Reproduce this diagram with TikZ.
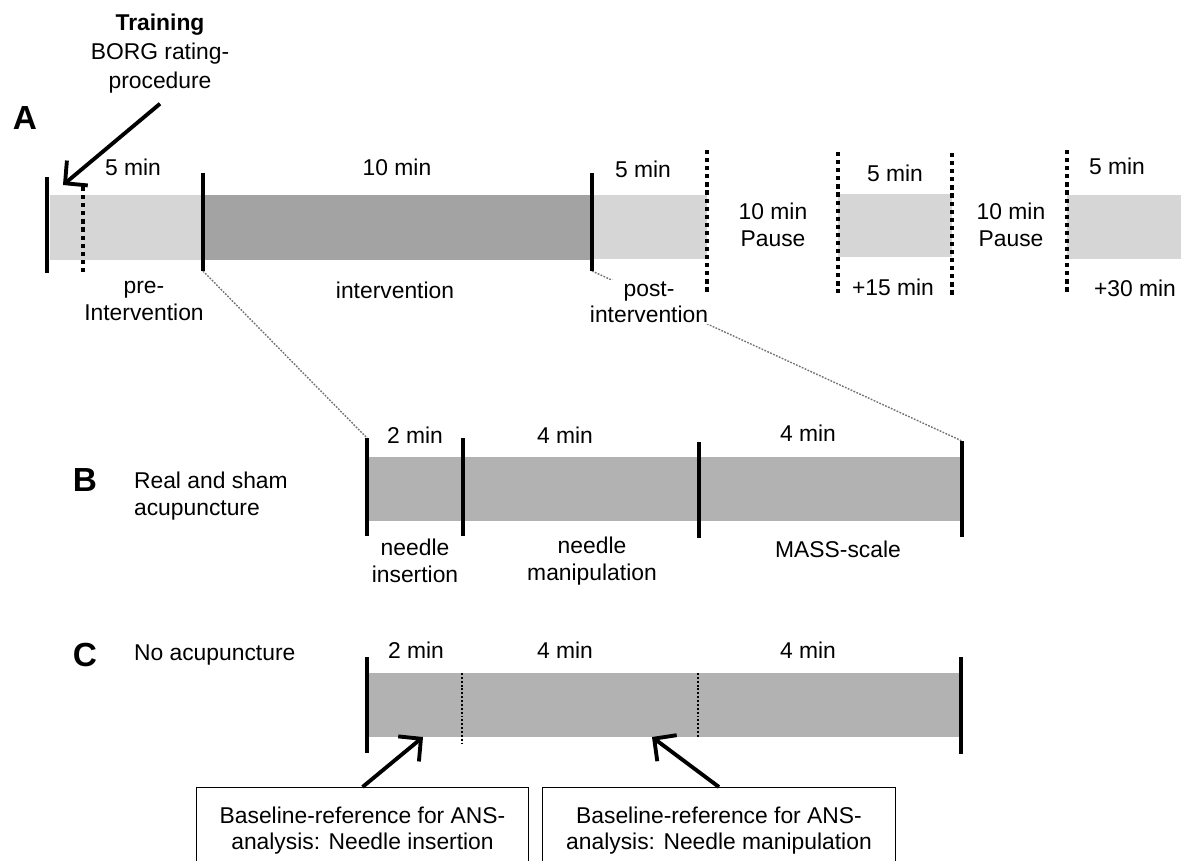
\documentclass[tikz,border=0pt]{standalone}
\usepackage{fontspec}
\setmainfont{Liberation Sans}
\usetikzlibrary{fit,positioning,arrows.meta}

\begin{document}
\begin{tikzpicture}[x=0.02cm, y=-0.02cm,
    lbl/.style={font=\fontsize{13}{15}\selectfont, align=center, inner sep=1pt},
    pLabel/.style={font=\fontsize{19}{21}\selectfont\bfseries, inner sep=0pt},
    segLight/.style={fill=black!16, inner sep=0pt},
    segDark/.style={fill=black!36, inner sep=0pt},
    segMid/.style={fill=black!30, inner sep=0pt},
    tick/.style={line width=2.8pt},
    dTick/.style={line width=2.6pt, dash pattern=on 2.4pt off 2.2pt},
    fTick/.style={line width=1.4pt, dash pattern=on 1.1pt off 1.1pt},
    zoomLine/.style={draw=black!55, line width=0.8pt, dash pattern=on 1pt off 0.8pt},
    pointer/.style={line width=2.2pt, -{Straight Barb[length=3.2mm, width=6.5mm]}},
    refBox/.style={draw, line width=0.6pt, lbl, anchor=north west, minimum height=1.72cm, inner sep=2pt}
]
    \useasboundingbox (0,0) rectangle (1181,860);
    \clip (0,0) rectangle (1181,860);

    % A
    \node[segLight, fit={(50,195) (203,260)}] (pre) {};
    \node[segDark, fit={(203,195) (592,260)}] (interv) {};
    \node[segLight, fit={(592,195) (707,259)}] (post) {};
    \node[segLight, fit={(838,194) (952,257)}] (p15) {};
    \node[segLight, fit={(1067,195) (1181,259)}] (p30) {};

    \coordinate (aStart) at (203,271);
    \coordinate (aEnd) at (592,271);
    \coordinate (bStart) at (367,438);
    \coordinate (bEnd) at (962,441);
    \path[zoomLine] (aStart) -- (bStart) (aEnd) -- (bEnd);
    \node[lbl, fill=white] (tPost) at (649,302) {post-\\intervention};

    \draw[tick] (47,177) -- (47,273);
    \draw[dTick] (83,187) -- (83,275);
    \draw[tick] (203,173) -- (aStart);
    \draw[tick] (592,173) -- (aEnd);
    \draw[dTick] (707,150) -- (707,293);
    \draw[dTick] (838,152) -- (838,293);
    \draw[dTick] (952,153) -- (952,295);
    \draw[dTick] (1067,150) -- (1067,292);

    \node[pLabel] (lA) at (25,118) {A};
    \node[lbl, font=\fontsize{13}{16.5}\selectfont] (train) at (160,54) {\textbf{Training}\\BORG rating-\\procedure};
    \coordinate (trainTip) at (63,185);
    \draw[pointer] ([yshift=-0.16cm]train.south) -- (trainTip);

    \node[lbl] (d1) at (133,167) {5 min};
    \node[lbl] (d2) at (397,167) {10 min};
    \node[lbl] (d3) at (643,169) {5 min};
    \node[lbl] (pause1) at (773,225) {10 min\\Pause};
    \node[lbl] (d4) at (895,173) {5 min};
    \node[lbl] (pause2) at (1011,225) {10 min\\Pause};
    \node[lbl] (d5) at (1117,166) {5 min};

    \node[lbl] (tPre) at (144,301) {pre-\\Intervention};
    \node[lbl] (tInt) at (395,290) {intervention};
    \node[lbl] (t15) at (893,287) {+15 min};
    \node[lbl] (t30) at (1135,288) {+30 min};

    % B
    \node[segMid, fit={(367,457) (962,521)}] (barB) {};
    \draw[tick] (bStart) -- (367,536);
    \draw[tick] (463,438) -- (463,536);
    \draw[tick] (699,442) -- (699,538);
    \draw[tick] (bEnd) -- (962,537);

    \node[pLabel] (lB) at (85,480) {B};
    \node[lbl, align=left, anchor=west] (realSham) at (132,496) {Real and sham\\acupuncture};
    \node[lbl] (b1) at (415,435) {2 min};
    \node[lbl] (b2) at (565,435) {4 min};
    \node[lbl] (b3) at (808,433) {4 min};
    \node[lbl] (nIns) at (415,561) {needle\\insertion};
    \node[lbl] (nMan) at (592,561) {needle\\manipulation};
    \node[lbl] (mass) at (838,549) {MASS-scale};

    % C
    \node[segMid, fit={(367,673) (961,737)}] (barC) {};
    \draw[tick] (367,657) -- (367,753);
    \draw[fTick] (462,673) -- (462,743);
    \draw[fTick] (698,673) -- (698,738);
    \draw[tick] (961,657) -- (961,754);

    \node[pLabel] (lC) at (85,655) {C};
    \node[lbl, anchor=west] (noAcu) at (132,655) {No acupuncture};
    \node[lbl] (c1) at (416,650) {2 min};
    \node[lbl] (c2) at (565,650) {4 min};
    \node[lbl] (c3) at (808,650) {4 min};

    \node[refBox, minimum width=6.64cm] (refIns) at (196,787) {Baseline-reference for ANS-\\analysis: Needle insertion};
    \node[refBox, minimum width=7.06cm] (refMan) at (542,787) {Baseline-reference for ANS-\\analysis: Needle manipulation};
    \coordinate (tipIns) at (423,737);
    \coordinate (tipMan) at (652,737);
    \draw[pointer] (refIns.north) -- (tipIns);
    \draw[pointer] (refMan.north) -- (tipMan);
\end{tikzpicture}
\end{document}
